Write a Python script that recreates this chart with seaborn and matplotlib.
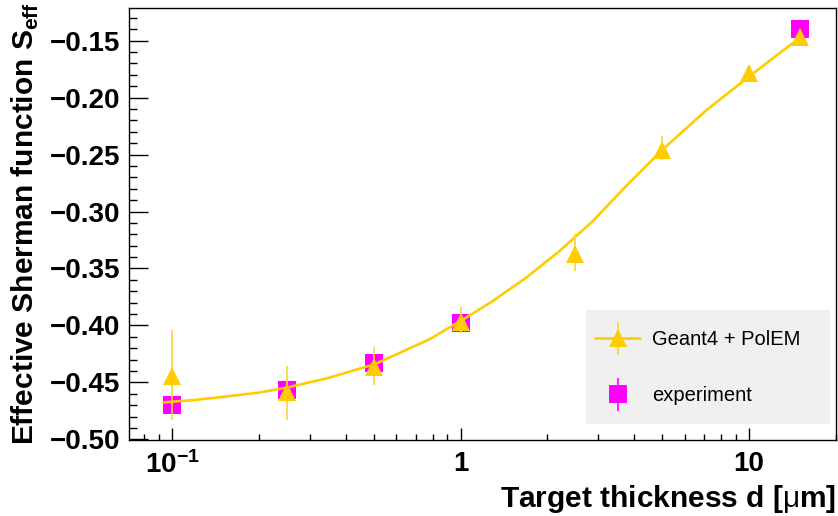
import numpy as np
import pandas as pd
import matplotlib
matplotlib.use("Agg")
import matplotlib.pyplot as plt
from matplotlib.ticker import MultipleLocator, LogLocator, NullFormatter, FuncFormatter
from matplotlib.patches import Rectangle
from matplotlib.legend_handler import HandlerErrorbar
from matplotlib.container import ErrorbarContainer
import seaborn as sns

# simulation points (Geant4 + PolEM)
sim_d = [0.1, 0.25, 0.5, 1.0, 2.5, 5.0, 10.0, 15.0]
sim_s = [-0.4442, -0.4585, -0.4363, -0.3970, -0.3377, -0.2457, -0.1783, -0.1465]
sim_err_lo = [0.0385, 0.0242, 0.0161, 0.0092, 0.0146, 0.0088, 0.003, 0.003]
sim_err_hi = [0.0402, 0.0230, 0.0175, 0.0135, 0.0176, 0.0117, 0.003, 0.003]

# experiment points
exp_d = [0.1, 0.25, 0.5, 1.0, 15.0]
exp_s = [-0.4699, -0.4565, -0.4325, -0.3975, -0.1398]
exp_err = [0.004, 0.004, 0.004, 0.004, 0.004]

# fitted curve
fit_d = [0.0933, 0.1185, 0.1546, 0.2016, 0.2513, 0.343, 0.5041, 0.781, 1.046,
         1.294, 1.688, 2.2, 2.87, 3.744, 5.01, 7.08, 10.0, 14.9]
fit_s = [-0.4675, -0.4655, -0.4623, -0.4588, -0.4544, -0.4465, -0.434, -0.4121, -0.3931,
         -0.3785, -0.3581, -0.3348, -0.3085, -0.2778, -0.2457, -0.2115, -0.1815, -0.1479]

gold = "#ffcc00"
gold_err = "#ffd23a"
magenta = "#ff00ff"

sns.set_style("ticks")
plt.rcParams["font.family"] = ["Liberation Sans", "DejaVu Sans"]
plt.rcParams["mathtext.fontset"] = "custom"
plt.rcParams["mathtext.rm"] = "Liberation Sans"
plt.rcParams["mathtext.bf"] = "Liberation Sans:bold"
plt.rcParams["text.color"] = "black"
plt.rcParams["axes.labelcolor"] = "black"
plt.rcParams["xtick.color"] = "black"
plt.rcParams["ytick.color"] = "black"

fig = plt.figure(figsize=(8.38, 5.16), dpi=100)
ax = fig.add_axes([129 / 838, 1 - 440 / 516, 707 / 838, 432 / 516])

fit_df = pd.DataFrame({"d": fit_d, "s": fit_s})

# experiment squares first, so the simulation sits on top
sq = ax.errorbar(exp_d, exp_s, yerr=exp_err, fmt="s", color=magenta, ms=12.5,
                 ecolor=magenta, elinewidth=1.2, capsize=0, mew=0, zorder=2)
sns.lineplot(data=fit_df, x="d", y="s", color=gold, lw=1.9, ax=ax, zorder=3)
curve = ax.get_lines()[-1]
tri = ax.errorbar(sim_d, sim_s, yerr=[sim_err_lo, sim_err_hi], fmt="^", color=gold,
                  ms=12.5, ecolor=gold_err, elinewidth=1.2, capsize=1.8, capthick=1.2,
                  mew=0, zorder=4)

ax.set_xscale("log")
ax.set_xlim(0.071, 20)
ax.set_ylim(-0.5005, -0.1214)

ax.set_xticks([0.1, 1, 10], labels=[r"$\mathbf{10^{-1}}$", "1", "10"])
ax.xaxis.set_minor_locator(LogLocator(base=10, subs=np.arange(2, 10)))
ax.xaxis.set_minor_formatter(NullFormatter())
ax.yaxis.set_major_locator(MultipleLocator(0.05))
ax.yaxis.set_minor_locator(MultipleLocator(0.01))
ax.yaxis.set_major_formatter(FuncFormatter(lambda v, p: f"{v:.2f}".replace("-", "\u2212")))

ax.tick_params(axis="both", which="both", direction="in", top=False, right=False,
               labelsize=20, width=1, color="black", labelcolor="black")
ax.tick_params(axis="y", which="major", length=13.5, pad=6)
ax.tick_params(axis="y", which="minor", length=5.8)
ax.tick_params(axis="x", which="major", length=9, pad=8)
ax.tick_params(axis="x", which="minor", length=4.5)
for lab in ax.get_xticklabels() + ax.get_yticklabels():
    lab.set_fontweight("bold")

for sp in ax.spines.values():
    sp.set_visible(True)
    sp.set_linewidth(1.0)
    sp.set_color("black")

ax.set_xlabel(r"Target thickness d [$\mathrm{\mu}$m]", fontsize=21.5, fontweight="bold",
              loc="right", color="black")
ax.xaxis.set_label_coords(1.0, -0.1)
ax.set_ylabel(r"Effective Sherman function S$_\mathbf{eff}$", fontsize=21.5,
              fontweight="bold", loc="top", color="black")
ax.yaxis.set_label_coords(-0.124, 1.0139)

# legend box
ax.add_patch(Rectangle((0.646, 0.037), 0.3455, 0.264, transform=ax.transAxes,
                       facecolor="#f0f0f0", edgecolor="none", zorder=5))
leg = ax.legend([(curve, tri), sq], ["Geant4 + PolEM", "experiment"],
                loc="center left", bbox_to_anchor=(0.634, 0.167), frameon=False,
                fontsize=14.5, handlelength=2.2, handletextpad=0.6, labelspacing=1.85,
                labelcolor="black",
                handler_map={ErrorbarContainer: HandlerErrorbar(yerr_size=0.82)})
leg.set_zorder(6)

fig.savefig("out.png", dpi=100)
